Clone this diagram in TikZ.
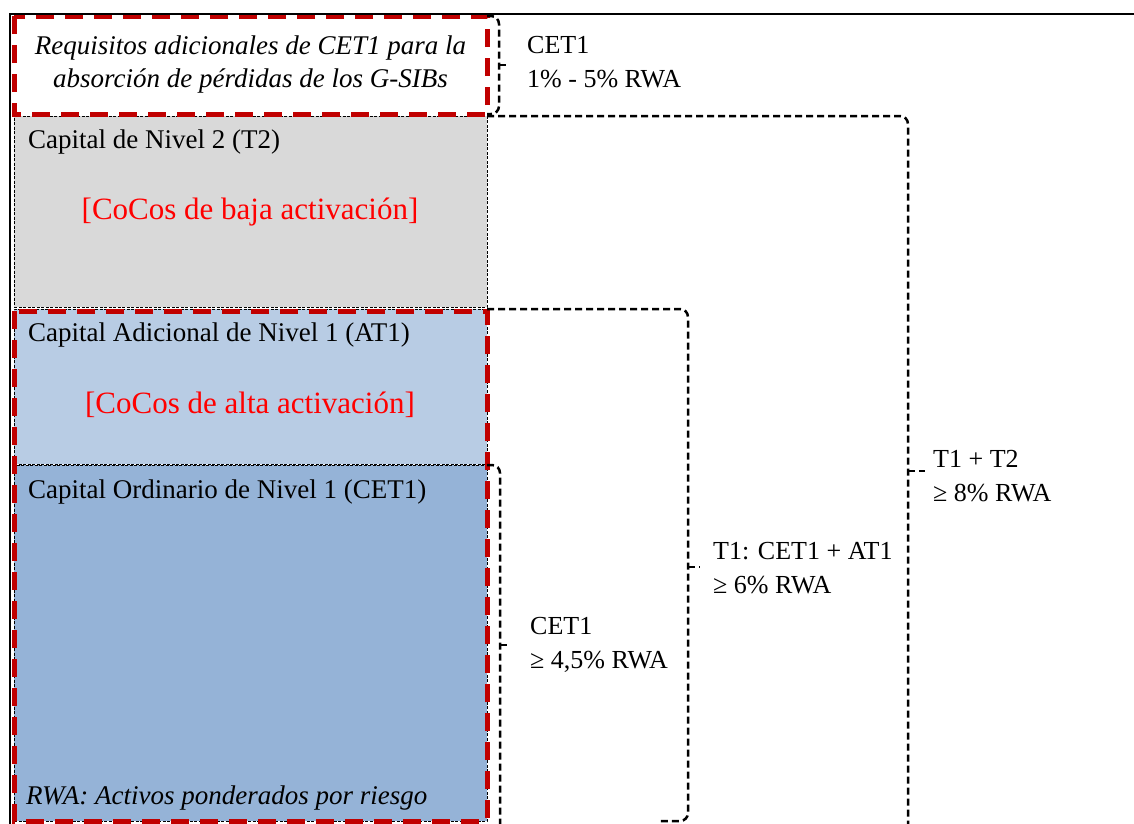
\documentclass[tikz,border=0pt]{standalone}
\usepackage{fontspec}
\setmainfont{Liberation Serif}
\usetikzlibrary{calc}
\definecolor{gris_t2}{HTML}{D9D9D9}
\definecolor{azul_at1}{HTML}{B8CCE4}
\definecolor{azul_cet1}{HTML}{95B3D7}
\definecolor{rojo_borde}{HTML}{C00000}
\definecolor{rojo_texto}{HTML}{FF0000}

\begin{document}
\begin{tikzpicture}[x=1pt,y=-1pt,
    capa/.style={draw=black, line width=1pt, dash pattern=on 3pt off 1.5pt, rectangle, anchor=north west, minimum width=473pt, outer sep=0pt, inner sep=0pt},
    rojo/.style={draw=rojo_borde, line width=5pt, dash pattern=on 18pt off 11pt},
    llave/.style={draw=black, line width=2.5pt, dash pattern=on 7pt off 4pt, rounded corners=8pt},
    titulo/.style={anchor=west, inner sep=0pt, font=\fontsize{27}{32}\selectfont},
    cocos/.style={text=rojo_texto, inner sep=0pt, font=\fontsize{31}{36}\selectfont},
    etiqueta/.style={anchor=west, inner sep=0pt, align=left, font=\fontsize{26}{34}\selectfont}]
        \useasboundingbox (0,0) rectangle (1134,823);
        \clip (0,0) rectangle (1134,823);
        % Capas de capital
        \node[capa, fill=white, draw=none, minimum height=98pt] (gsib) at (14,16) {};
        \node[capa, fill=gris_t2, minimum height=191pt] (t2) at (14,116) {};
        \node[capa, fill=azul_at1, minimum height=155pt] (at1) at (14,309) {};
        \node[capa, fill=azul_cet1, minimum height=356pt] (cet1) at (14,465) {};
        % Textos de las capas
        \node[align=center, inner sep=0pt, font=\fontsize{27}{33}\selectfont\itshape] (txtgsib) at (gsib.center) {Requisitos adicionales de CET1 para la\\absorción de pérdidas de los G-SIBs};
        \node[titulo] (txtt2) at (28,142) {Capital de Nivel 2 (T2)};
        \node[cocos] (cocost2) at (250,212) {[CoCos de baja activación]};
        \node[titulo] (txtat1) at (28,335) {Capital Adicional de Nivel 1 (AT1)};
        \node[cocos] (cocosat1) at (250,405) {[CoCos de alta activación]};
        \node[titulo] (txtcet1) at (28,492) {Capital Ordinario de Nivel 1 (CET1)};
        \node[anchor=west, inner sep=0pt, font=\fontsize{27}{33}\selectfont\itshape] (rwa) at (26,798) {RWA: Activos ponderados por riesgo};
        % Bordes rojos
        \draw[rojo] (gsib.north west) rectangle (gsib.south east);
        \draw[rojo] ($(at1.north west)+(0,2)$) rectangle (cet1.south east);
        % Llave CET1 (G-SIBs)
        \draw[llave] (gsib.north east) -- ++(12,0) -- ++(0,98) -- ++(-12,0);
        \draw[llave] ($(gsib.east)+(12,0)$) -- ++(7,0);
        \node[etiqueta] (lblgsib) at (527,62) {CET1\\1\% - 5\% RWA};
        % Llave T1 + T2
        \draw[llave] (t2.north east) -| (908,830);
        \draw[llave] (908,471) -- ++(17,0);
        \node[etiqueta] (lbltotal) at (933,476) {T1 + T2\\≥ 8\% RWA};
        % Llave T1
        \draw[llave] (at1.north east) -| (688,821) -- (660,821);
        \draw[llave] (688,567) -- ++(12,0);
        \node[etiqueta] (lblt1) at (713,568) {T1: CET1 + AT1\\≥ 6\% RWA};
        % Llave CET1
        \draw[llave] (cet1.north east) -| (500,830);
        \draw[llave] (500,645) -- ++(10,0);
        \node[etiqueta] (lblcet1) at (530,645) {CET1\\≥ 4,5\% RWA};
        % Marco
        \draw[line width=2.5pt] (10,830) -- (10,14) -- (1134,14);
    \end{tikzpicture}
\end{document}
